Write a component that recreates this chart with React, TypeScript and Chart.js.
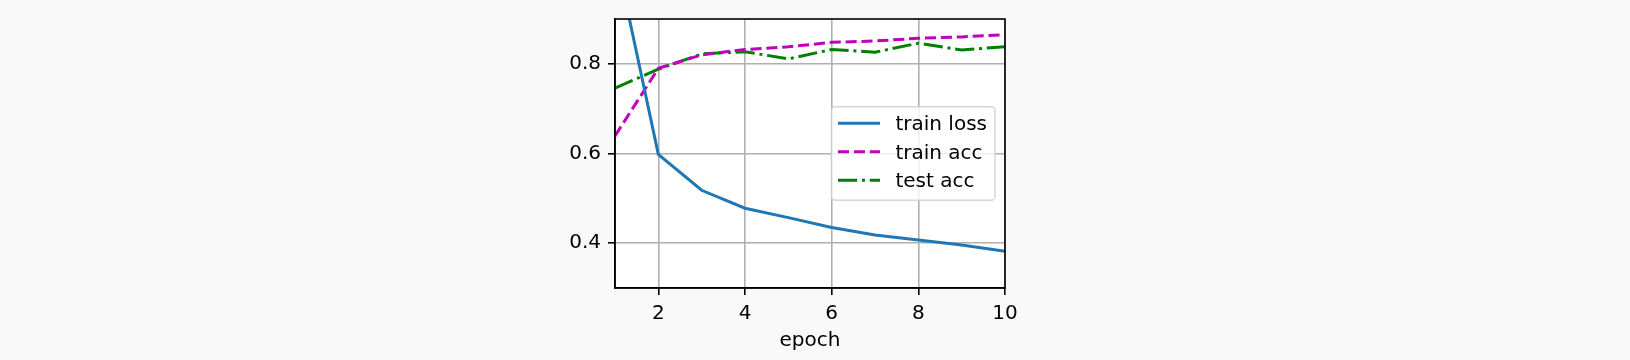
import { useEffect, useRef } from "react";
import { Chart, registerables } from "chart.js";

Chart.register(...registerables);

const epochs = [1, 2, 3, 4, 5, 6, 7, 8, 9, 10];
const trainLoss = [1.05, 0.598, 0.518, 0.478, 0.457, 0.435, 0.418, 0.407, 0.396, 0.382];
const trainAcc = [0.639, 0.79, 0.82, 0.832, 0.838, 0.848, 0.851, 0.857, 0.86, 0.865];
const testAcc = [0.746, 0.788, 0.822, 0.827, 0.811, 0.832, 0.826, 0.846, 0.831, 0.838];
const xTicks = [2, 4, 6, 8, 10];
const yTicks = [0.4, 0.6, 0.8];
const seriesLabels = ["train loss", "train acc", "test acc"];
const xTitle = "epoch";

const FONT = "'DejaVu Sans', sans-serif";

const areaPlugin = {
  id: "areaPlugin",
  beforeDraw(chart: any) {
    const { ctx, chartArea: a } = chart;
    ctx.save();
    ctx.fillStyle = "#ffffff";
    ctx.fillRect(a.left, a.top, a.right - a.left, a.bottom - a.top);
    ctx.restore();
  },
  afterDatasetsDraw(chart: any) {
    const { ctx, chartArea: a } = chart;
    ctx.save();
    ctx.strokeStyle = "#000000";
    ctx.lineWidth = 1.6;
    ctx.strokeRect(a.left, a.top, a.right - a.left, a.bottom - a.top);
    ctx.restore();
  },
  afterDraw(chart: any) {
    const { ctx, chartArea: a } = chart;
    ctx.save();
    ctx.font = `20px ${FONT}`;
    let tw = 0;
    seriesLabels.forEach((l) => (tw = Math.max(tw, ctx.measureText(l).width)));
    const w = 64 + tw + 8;
    const h = 93.6;
    const right = a.right - 10;
    const left = right - w;
    const top = (a.top + a.bottom) / 2 - h / 2;
    ctx.beginPath();
    (ctx as any).roundRect(left, top, w, h, 4);
    ctx.fillStyle = "rgba(255,255,255,0.8)";
    ctx.fill();
    ctx.lineWidth = 1.5;
    ctx.strokeStyle = "rgba(204,204,204,0.8)";
    ctx.stroke();
    chart.data.datasets.forEach((ds: any, i: number) => {
      const y = top + 16.6 + i * 28.5;
      ctx.beginPath();
      ctx.setLineDash(ds.borderDash || []);
      ctx.lineWidth = ds.borderWidth;
      ctx.strokeStyle = ds.borderColor;
      ctx.moveTo(left + 6.5, y);
      ctx.lineTo(left + 48.5, y);
      ctx.stroke();
      ctx.setLineDash([]);
      ctx.fillStyle = "#000000";
      ctx.textBaseline = "alphabetic";
      ctx.textAlign = "left";
      ctx.fillText(ds.label, left + 64, y + 7);
    });
    ctx.restore();
  },
};

export default function App() {
  const ref = useRef<HTMLCanvasElement>(null);
  useEffect(() => {
    document.body.style.margin = "0";
    document.body.style.background = "#f9f9f9";
    const toPts = (arr: number[]) => arr.map((v, i) => ({ x: epochs[i], y: v }));
    const chart = new Chart(ref.current!, {
      type: "line",
      data: {
        datasets: [
          {
            label: seriesLabels[0],
            data: toPts(trainLoss),
            borderColor: "#1f77b4",
            borderWidth: 3,
            pointRadius: 0,
            fill: false,
            tension: 0,
            clip: 0,
          },
          {
            label: seriesLabels[1],
            data: toPts(trainAcc),
            borderColor: "#bf00bf",
            borderWidth: 3,
            borderDash: [11.1, 4.8],
            pointRadius: 0,
            fill: false,
            tension: 0,
            clip: 0,
          },
          {
            label: seriesLabels[2],
            data: toPts(testAcc),
            borderColor: "#008000",
            borderWidth: 3,
            borderDash: [19.2, 4.8, 3, 4.8],
            pointRadius: 0,
            fill: false,
            tension: 0,
            clip: 0,
          },
        ] as any,
      },
      options: {
        animation: false,
        responsive: false,
        devicePixelRatio: 1,
        layout: { padding: { left: 555, right: 625, top: 17, bottom: 0 } },
        plugins: { legend: { display: false }, tooltip: { enabled: false } },
        scales: {
          x: {
            type: "linear",
            min: 1,
            max: 10,
            afterBuildTicks: (s: any) => {
              s.ticks = xTicks.map((v) => ({ value: v }));
            },
            afterFit: (s: any) => {
              s.height = 72;
            },
            grid: {
              color: "#b0b0b0",
              lineWidth: 1.6,
              tickColor: "#000000",
              tickWidth: 1.6,
              tickLength: 7,
            },
            border: { display: true, color: "#000000", width: 1.6 },
            ticks: {
              padding: 7,
              color: "#000000",
              font: { family: FONT, size: 20 },
              maxRotation: 0,
              autoSkip: false,
              callback: (v: any) => String(v),
            },
            title: {
              display: true,
              text: xTitle,
              color: "#000000",
              font: { family: FONT, size: 20 },
              padding: { top: 0, bottom: 7.5 },
            },
          },
          y: {
            type: "linear",
            min: 0.3,
            max: 0.9,
            afterBuildTicks: (s: any) => {
              s.ticks = yTicks.map((v) => ({ value: v }));
            },
            afterFit: (s: any) => {
              s.width = 60;
            },
            grid: {
              color: "#b0b0b0",
              lineWidth: 1.6,
              tickColor: "#000000",
              tickWidth: 1.6,
              tickLength: 7,
            },
            border: { display: true, color: "#000000", width: 1.6 },
            ticks: {
              padding: 7,
              color: "#000000",
              font: { family: FONT, size: 20 },
              autoSkip: false,
              callback: (v: any) => Number(v).toFixed(1),
            },
          },
        },
      } as any,
      plugins: [areaPlugin],
    });
    return () => chart.destroy();
  }, []);
  return (
    <div style={{ width: 1630, height: 360 }}>
      <canvas ref={ref} width={1630} height={360} style={{ display: "block", width: 1630, height: 360 }} />
    </div>
  );
}
